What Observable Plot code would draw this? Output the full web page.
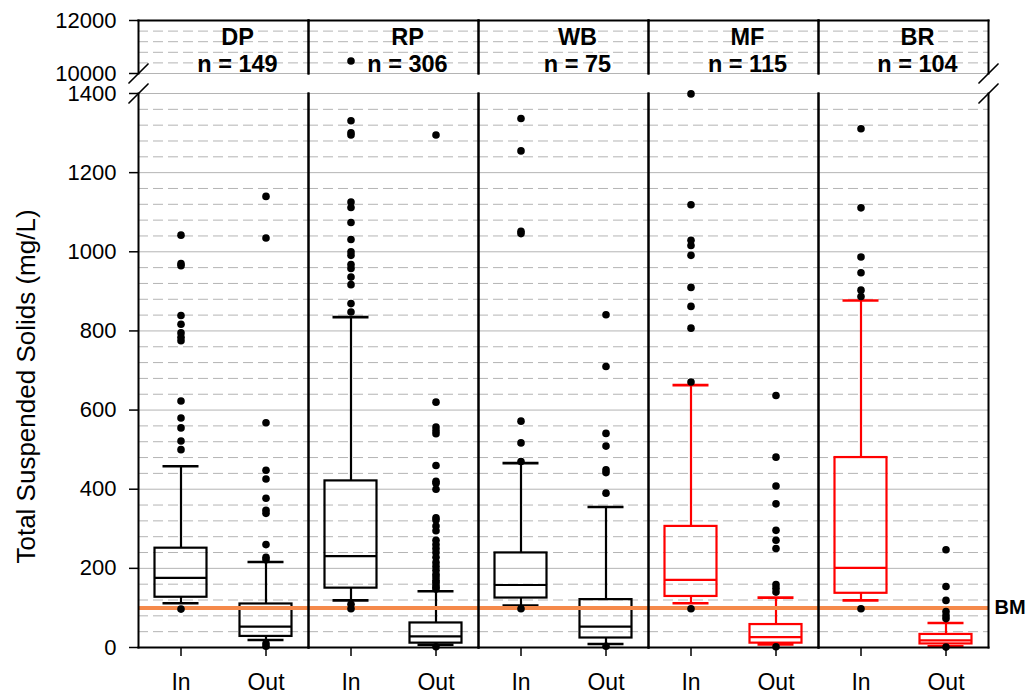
<!DOCTYPE html>
<html>
<head>
<meta charset="utf-8">
<script src="https://cdn.jsdelivr.net/npm/d3@7"></script>
<script src="https://cdn.jsdelivr.net/npm/@observablehq/plot@0.6"></script>
<style>
  html, body { margin: 0; padding: 0; background: #fff; overflow: hidden; }
  #chart { width: 1025px; height: 693px; }
  #chart svg { display: block; }
</style>
</head>
<body>
<div id="chart"></div>
<script>
// Sites and sample sizes
const sites = ["DP", "RP", "WB", "MF", "BR"];
const sampleCounts = [149, 306, 75, 115, 104];
const groups = ["In", "Out"];
const redSites = ["MF", "BR"];

// Box statistics per site (mg/L), influent
const inLower  = [112, 119, 106, 112, 119];
const inQ1     = [127, 150, 125, 129, 137];
const inMedian = [176, 231, 158, 171, 201];
const inQ3     = [251, 421, 239, 306, 480];
const inUpper  = [458, 835, 466, 663, 877];

// Box statistics per site (mg/L), effluent
const outLower  = [19, 7, 9, 8, 3];
const outQ1     = [28, 11, 24, 11, 9];
const outMedian = [53, 28, 53, 26, 18];
const outQ3     = [110, 62, 121, 58, 33];
const outUpper  = [216, 142, 355, 126, 62];

// Outlying observations (mg/L)
const dpIn  = [1042, 970, 965, 839, 817, 795, 784, 775, 623, 580, 555, 522, 500, 97];
const dpOut = [1140, 1035, 568, 448, 426, 377, 347, 339, 260, 228, 222, 10, 3];
const rpIn  = [10473, 1331, 1301, 1295, 1126, 1112, 1074, 1031, 1000, 991, 968, 958, 936, 917, 869, 848, 109, 98];
const rpOut = [1295, 620, 557, 548, 540, 460, 420, 415, 400, 328, 322, 307, 295, 271, 260, 250, 240, 228, 215,
               205, 195, 185, 178, 170, 165, 158, 152, 148, 2];
const wbIn  = [1337, 1255, 1052, 1046, 572, 517, 470, 98];
const wbOut = [841, 710, 541, 509, 449, 442, 390, 3];
const mfIn  = [1399, 1119, 1029, 1016, 991, 910, 862, 807, 671, 98];
const mfOut = [637, 481, 408, 363, 296, 271, 250, 159, 150, 140, 2];
const brIn  = [1311, 1111, 987, 947, 903, 887, 98];
const brOut = [247, 154, 119, 91, 81, 73, 1];

const bmpLimit = 100;
const lowTicks = [0, 200, 400, 600, 800, 1000, 1200, 1400];
const highTicks = [10000, 12000];

// ---- tables built from the arrays above ----
const boxes = sites.flatMap((site, i) => [
  {site, group: "In", lower: inLower[i], q1: inQ1[i], median: inMedian[i], q3: inQ3[i], upper: inUpper[i]},
  {site, group: "Out", lower: outLower[i], q1: outQ1[i], median: outMedian[i], q3: outQ3[i], upper: outUpper[i]}
]);
const outlierSets = [
  ["DP", "In", dpIn], ["DP", "Out", dpOut], ["RP", "In", rpIn], ["RP", "Out", rpOut],
  ["WB", "In", wbIn], ["WB", "Out", wbOut], ["MF", "In", mfIn], ["MF", "Out", mfOut],
  ["BR", "In", brIn], ["BR", "Out", brOut]
];
const outliers = outlierSets.flatMap(([site, group, vals]) => vals.map(value => ({site, group, value})));
const lowOutliers = outliers.filter(d => d.value <= 1400);
const highOutliers = outliers.filter(d => d.value >= 10000);

const ink = d => redSites.includes(d.site) ? "#ff0000" : "#000000";
const font = "'Liberation Sans', Arial, Helvetica, sans-serif";
const gridGray = "#b4b4b4";
const dash = "10,5";
const W = 1025, ML = 137, MR = 36;
const boxInset = 16.5, capInset = 24.5;
const plain = d3.format("d");

// straight segment used for the axis-break marks
const slash = {draw(context, length) { context.moveTo(0, 0); context.lineTo(0, -length); }};
const breakMark = (site, anchor) => Plot.vector([0], {
  fx: () => site, frameAnchor: anchor, length: 27, rotate: 45, anchor: "middle",
  shape: slash, stroke: "black", strokeWidth: 1.6
});

const boxMarks = [
  Plot.ruleX(boxes, {fx: "site", x: "group", y1: "q3", y2: "upper", stroke: ink, strokeWidth: 2.2}),
  Plot.ruleX(boxes, {fx: "site", x: "group", y1: "lower", y2: "q1", stroke: ink, strokeWidth: 2.2}),
  Plot.tickY(boxes, {fx: "site", x: "group", y: "upper", stroke: ink, strokeWidth: 2.6, insetLeft: capInset, insetRight: capInset}),
  Plot.tickY(boxes, {fx: "site", x: "group", y: "lower", stroke: ink, strokeWidth: 2.6, insetLeft: capInset, insetRight: capInset}),
  Plot.rectY(boxes, {fx: "site", x: "group", y1: "q1", y2: "q3", fill: "none", stroke: ink, strokeWidth: 2.2, insetLeft: boxInset, insetRight: boxInset}),
  Plot.tickY(boxes, {fx: "site", x: "group", y: "median", stroke: ink, strokeWidth: 2.2, insetLeft: boxInset, insetRight: boxInset})
];

// Upper panel: 10000–12000
const upper = Plot.plot({
  width: W, height: 83,
  marginLeft: ML, marginRight: MR, marginTop: 20, marginBottom: 10,
  style: {fontFamily: font, fontSize: "22px", overflow: "visible", color: "black"},
  fx: {domain: sites, padding: 0, axis: null},
  x: {type: "band", domain: groups, padding: 0, axis: null},
  y: {domain: [10000, 12000]},
  color: {type: "identity"},
  marks: [
    Plot.ruleY(d3.range(10400, 12000, 400), {stroke: gridGray, strokeDasharray: dash}),
    Plot.ruleY([10000], {stroke: gridGray}),
    Plot.axisY(highTicks, {tickSize: 9, tickPadding: 13, fontSize: 22, label: null, strokeWidth: 1.5, tickFormat: plain}),
    Plot.frame({anchor: "left", strokeWidth: 2}),
    Plot.frame({anchor: "right", strokeWidth: 2}),
    Plot.frame({anchor: "top", strokeWidth: 2}),
    Plot.dot(highOutliers, {fx: "site", x: "group", y: "value", r: 3.8, fill: "black"}),
    Plot.text(sites, {fx: d => d, text: d => d, frameAnchor: "top", lineAnchor: "middle", dx: 14, dy: 17,
      fontWeight: "bold", fontSize: 23.5}),
    Plot.text(sites, {fx: d => d, text: (d, i) => `n = ${sampleCounts[i]}`, frameAnchor: "top", lineAnchor: "middle",
      dx: 14, dy: 44, fontWeight: "bold", fontSize: 23.5}),
    breakMark("DP", "bottom-left"),
    breakMark("BR", "bottom-right")
  ]
});

// Lower panel: 0–1400
const lower = Plot.plot({
  width: W, height: 610,
  marginLeft: ML, marginRight: MR, marginTop: 10, marginBottom: 46,
  style: {fontFamily: font, fontSize: "22px", overflow: "visible", color: "black"},
  fx: {domain: sites, padding: 0, axis: null},
  x: {type: "band", domain: groups, padding: 0},
  y: {domain: [0, 1400]},
  color: {type: "identity"},
  marks: [
    Plot.ruleY(d3.range(40, 1400, 40).filter(v => v % 200 !== 0), {stroke: gridGray, strokeDasharray: dash}),
    Plot.ruleY(lowTicks.filter(v => v > 0), {stroke: gridGray}),
    Plot.axisY(lowTicks, {tickSize: 9, tickPadding: 13, fontSize: 22, label: null, strokeWidth: 1.5, tickFormat: plain}),
    Plot.axisX({tickSize: 9, tickPadding: 17, fontSize: 23, label: null, strokeWidth: 1.5}),
    Plot.text(["Total Suspended Solids (mg/L)"], {fx: () => "DP", text: d => d, frameAnchor: "left",
      textAnchor: "middle", lineAnchor: "middle", rotate: -90, dx: -112, dy: 16, fontSize: 26}),
    ...boxMarks,
    Plot.ruleY([bmpLimit], {stroke: "#f5894a", strokeWidth: 4}),
    Plot.dot(lowOutliers, {fx: "site", x: "group", y: "value", r: 3.8, fill: "black"}),
    Plot.frame({anchor: "left", strokeWidth: 2}),
    Plot.frame({anchor: "right", strokeWidth: 2}),
    Plot.frame({anchor: "bottom", strokeWidth: 2}),
    Plot.text([bmpLimit], {fx: () => "BR", y: d => d, text: () => "BMP", frameAnchor: "right",
      textAnchor: "start", dx: 6, fontWeight: "bold", fontSize: 20}),
    breakMark("DP", "top-left"),
    breakMark("BR", "top-right")
  ]
});

const chart = document.getElementById("chart");
chart.append(upper, lower);
</script>
</body>
</html>
